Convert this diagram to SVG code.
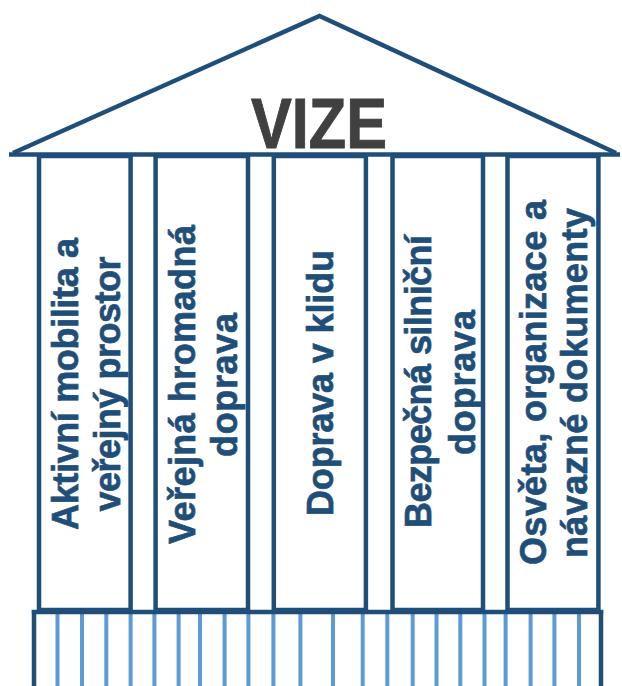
<svg xmlns="http://www.w3.org/2000/svg" width="622" height="686" viewBox="0 0 622 686">
  <style>
    .edge { stroke: #1F4E79; stroke-width: 4.5; fill: none; }
    .col { stroke: #1F4E79; stroke-width: 4.5; fill: #FFFFFF; }
    .rib { stroke: #5B9BD5; stroke-width: 4; }
    .label { font-family: "Liberation Sans", Arial, sans-serif; font-weight: bold; font-size: 36px; fill: #1F4E79; stroke: #1F4E79; stroke-width: 0.7; text-anchor: middle; }
    .title { font-family: "Liberation Sans Narrow", "Liberation Sans", Arial, sans-serif; font-weight: bold; font-size: 71px; fill: #404040; stroke: #404040; stroke-width: 1; text-anchor: middle; }
  </style>
  <rect width="622" height="686" fill="#FFFFFF"/>

  <!-- pediment -->
  <g id="roof">
    <polyline class="edge" points="13,153 319.5,16 616,153" stroke-linejoin="miter"/>
    <line class="edge" x1="9" y1="154.5" x2="620" y2="154.5" stroke-width="5.5"/>
    <text class="title" x="319" y="148" textLength="136" lengthAdjust="spacingAndGlyphs">VIZE</text>
  </g>

  <!-- base with vertical ribs -->
  <g id="base">
    <g class="rib">
      <line x1="57.5" y1="614" x2="57.5" y2="686"/>
      <line x1="82" y1="614" x2="82" y2="686"/>
      <line x1="106.3" y1="614" x2="106.3" y2="686"/>
      <line x1="130.6" y1="614" x2="130.6" y2="686"/>
      <line x1="154.4" y1="614" x2="154.4" y2="686"/>
      <line x1="178.6" y1="614" x2="178.6" y2="686"/>
      <line x1="200" y1="614" x2="200" y2="686"/>
      <line x1="224.6" y1="614" x2="224.6" y2="686"/>
      <line x1="248.4" y1="614" x2="248.4" y2="686"/>
      <line x1="273.4" y1="614" x2="273.4" y2="686"/>
      <line x1="300.4" y1="614" x2="300.4" y2="686"/>
      <line x1="333" y1="614" x2="333" y2="686"/>
      <line x1="362.7" y1="614" x2="362.7" y2="686"/>
      <line x1="387.3" y1="614" x2="387.3" y2="686"/>
      <line x1="412.7" y1="614" x2="412.7" y2="686"/>
      <line x1="436.5" y1="614" x2="436.5" y2="686"/>
      <line x1="460.3" y1="614" x2="460.3" y2="686"/>
      <line x1="484.5" y1="614" x2="484.5" y2="686"/>
      <line x1="505.6" y1="614" x2="505.6" y2="686"/>
      <line x1="530.6" y1="614" x2="530.6" y2="686"/>
      <line x1="554.4" y1="614" x2="554.4" y2="686"/>
      <line x1="579" y1="614" x2="579" y2="686"/>
    </g>
    <line class="edge" x1="34" y1="610" x2="34" y2="690"/>
    <line class="edge" x1="601" y1="610" x2="601" y2="690"/>
    <line class="edge" x1="31.8" y1="612" x2="603.2" y2="612" stroke-width="6"/>
  </g>

  <!-- pillars -->
  <g id="pillar-1">
    <rect class="col" x="39" y="156" width="91.6" height="454"/>
    <text class="label" transform="translate(77.5,384) rotate(-90)" textLength="292" lengthAdjust="spacing">Aktivní mobilita a</text>
    <text class="label" transform="translate(120,384) rotate(-90)" textLength="255" lengthAdjust="spacing">veřejný prostor</text>
  </g>
  <g id="pillar-2">
    <rect class="col" x="155.6" y="156" width="92.4" height="454"/>
    <text class="label" transform="translate(195,384.5) rotate(-90)" textLength="319" lengthAdjust="spacing">Veřejná hromadná</text>
    <text class="label" transform="translate(237,385) rotate(-90)" textLength="144" lengthAdjust="spacing">doprava</text>
  </g>
  <g id="pillar-3">
    <rect class="col" x="273.8" y="156" width="92.1" height="454"/>
    <text class="label" transform="translate(333,383) rotate(-90)" textLength="266" lengthAdjust="spacing">Doprava v klidu</text>
  </g>
  <g id="pillar-4">
    <rect class="col" x="392.5" y="156" width="90.5" height="454"/>
    <text class="label" transform="translate(430.5,381.5) rotate(-90)" textLength="293" lengthAdjust="spacing">Bezpečná silniční</text>
    <text class="label" transform="translate(474.5,382.5) rotate(-90)" textLength="145" lengthAdjust="spacing">doprava</text>
  </g>
  <g id="pillar-5">
    <rect class="col" x="507.5" y="156" width="90.9" height="454"/>
    <text class="label" transform="translate(546,382.5) rotate(-90)" textLength="365" lengthAdjust="spacing">Osvěta, organizace a</text>
    <text class="label" transform="translate(587,383) rotate(-90)" textLength="350" lengthAdjust="spacing">návazné dokumenty</text>
  </g>
</svg>
